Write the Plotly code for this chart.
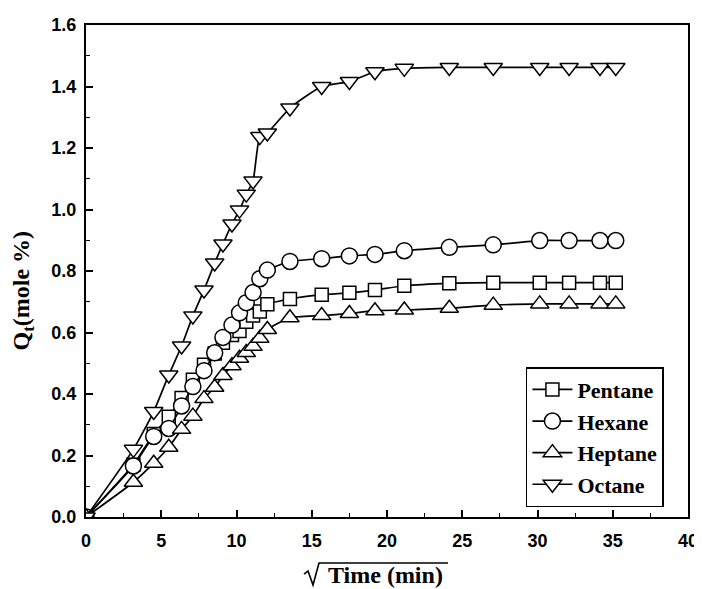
import plotly.graph_objects as go

sqrt_time = [0, 3.15, 4.5, 5.5, 6.35, 7.1, 7.84, 8.55, 9.1, 9.7, 10.2, 10.65, 11.1, 11.55,
             12.05, 13.55, 15.66, 17.5, 19.2, 21.15, 24.14, 27.06, 30.15, 32.1, 34.15, 35.2]

pentane = [0, 0.17, 0.27, 0.326, 0.387, 0.446, 0.495, 0.532, 0.567, 0.592, 0.605, 0.635, 0.655,
           0.668, 0.692, 0.709, 0.723, 0.729, 0.738, 0.752, 0.760, 0.762, 0.762, 0.762, 0.762, 0.762]
hexane = [0, 0.166, 0.262, 0.288, 0.361, 0.424, 0.476, 0.534, 0.584, 0.624, 0.664, 0.697, 0.730,
          0.775, 0.803, 0.831, 0.840, 0.849, 0.854, 0.866, 0.877, 0.885, 0.899, 0.899, 0.899, 0.899]
heptane = [0, 0.113, 0.175, 0.227, 0.285, 0.328, 0.385, 0.422, 0.460, 0.492, 0.516, 0.535, 0.555,
           0.581, 0.610, 0.648, 0.655, 0.662, 0.671, 0.673, 0.679, 0.689, 0.693, 0.693, 0.693, 0.693]
octane = [0, 0.220, 0.343, 0.462, 0.556, 0.654, 0.738, 0.826, 0.888, 0.953, 0.998, 1.050, 1.093,
          1.237, 1.249, 1.330, 1.400, 1.416, 1.448, 1.459, 1.462, 1.462, 1.462, 1.462, 1.462, 1.462]

series = [
    ("Pentane", pentane, "square", 13),
    ("Hexane", hexane, "circle", 16),
    ("Heptane", heptane, "triangle-up", 16),
    ("Octane", octane, "triangle-down", 16),
]

fig = go.Figure()
for name, vals, sym, sz in series:
    fig.add_trace(go.Scatter(
        x=sqrt_time, y=vals, name=name, mode="lines+markers",
        line=dict(color="black", width=1.7, shape="spline", smoothing=0.5),
        marker=dict(symbol=sym, size=sz, color="white",
                    line=dict(color="black", width=1.5)),
    ))

axis_common = dict(
    showline=True, linecolor="black", linewidth=2, mirror=True,
    ticks="inside", ticklen=7, tickwidth=1.5, tickcolor="black",
    showgrid=False, zeroline=False, automargin=False,
    tickfont=dict(family="Liberation Sans, Arial", size=18, color="black", weight="bold"),
)

fig.update_xaxes(range=[0, 40], tickvals=[0, 5, 10, 15, 20, 25, 30, 35, 40],
                 ticklabelstandoff=6,
                 minor=dict(ticks="inside", ticklen=4, tickwidth=1.2, tickcolor="black",
                            dtick=2.5, tick0=0),
                 **axis_common)
fig.update_yaxes(range=[0, 1.6], tickvals=[0, 0.2, 0.4, 0.6, 0.8, 1.0, 1.2, 1.4, 1.6],
                 ticktext=["0.0", "0.2", "0.4", "0.6", "0.8", "1.0", "1.2", "1.4", "1.6"],
                 ticklabelstandoff=4,
                 minor=dict(ticks="inside", ticklen=4, tickwidth=1.2, tickcolor="black",
                            dtick=0.1, tick0=0),
                 **axis_common)

# y-axis title (placed like the reference, a bit below the plot centre)
fig.add_annotation(
    xref="paper", yref="paper", x=-0.105, y=0.46, xanchor="center", yanchor="middle",
    textangle=-90, text="<b>Q<sub>t</sub>(mole %)</b>", showarrow=False,
    font=dict(family="Liberation Serif, Times New Roman", size=24, color="black"),
)

# x-axis title: "Time (min)" under a drawn square-root sign
fig.add_annotation(
    xref="paper", yref="paper", x=0.497, y=-0.118, xanchor="center", yanchor="middle",
    text="<b>Time (min)</b>", showarrow=False,
    font=dict(family="Liberation Serif, Times New Roman", size=24, color="black"),
)
fig.add_shape(type="path", xref="paper", yref="paper",
              path="M 0.3621,-0.1159 L 0.3688,-0.1098 L 0.3771,-0.1382 "
                   "L 0.3870,-0.0935 L 0.6013,-0.0935",
              line=dict(color="black", width=1.6))

# page body has an 8px margin: compensate so the plot area lands where the reference has it
fig.update_layout(
    width=694, height=581,
    margin=dict(l=78, r=14, t=17, b=72),
    plot_bgcolor="white", paper_bgcolor="white",
    showlegend=True,
    legend=dict(x=0.96, y=0.02, xanchor="right", yanchor="bottom",
                bordercolor="black", borderwidth=1.5, bgcolor="white",
                font=dict(family="Liberation Serif, Times New Roman", size=22,
                          color="black", weight="bold"),
                itemwidth=40, tracegroupgap=0),
)

fig.write_html("out.html")
